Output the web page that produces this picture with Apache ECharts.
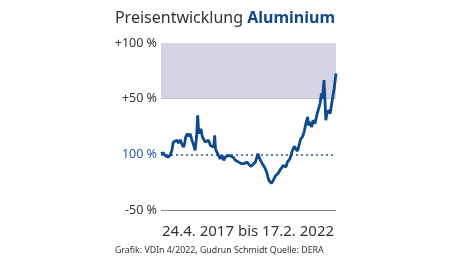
<!DOCTYPE html>
<html><head><meta charset="utf-8">
<script src="https://cdn.jsdelivr.net/npm/echarts@6/dist/echarts.min.js"></script>
<style>html,body{margin:0;padding:0;background:#fff}#c{width:450px;height:257px}</style>
</head><body><div id="c"></div>
<script>
// x: decimal year, y: change in %
const years = [2017.31,2017.37,2017.42,2017.50,2017.56,2017.61,2017.65,2017.70,2017.75,2017.79,2017.84,2017.88,2017.93,2017.96,2017.99,2018.04,2018.09,2018.11,2018.16,2018.21,2018.25,2018.29,2018.32,2018.34,2018.37,2018.41,2018.45,2018.48,2018.53,2018.58,2018.62,2018.67,2018.71,2018.76,2018.79,2018.81,2018.85,2018.90,2018.94,2018.99,2019.04,2019.08,2019.13,2019.17,2019.25,2019.31,2019.36,2019.41,2019.45,2019.53,2019.59,2019.68,2019.78,2019.85,2019.91,2019.98,2020.03,2020.10,2020.16,2020.22,2020.28,2020.35,2020.40,2020.47,2020.53,2020.61,2020.68,2020.75,2020.79,2020.86,2020.93,2020.98,2021.02,2021.07,2021.11,2021.16,2021.21,2021.25,2021.30,2021.35,2021.37,2021.41,2021.46,2021.50,2021.55,2021.60,2021.64,2021.69,2021.73,2021.76,2021.80,2021.83,2021.85,2021.88,2021.93,2021.97,2022.04,2022.08,2022.13];
const change = [0.6,1.5,-1,-2.4,-1,3.6,11,10,12.6,10,13,9.6,6.6,9.6,15.6,18.6,16,18.6,13,8,3.6,15.6,35,24.6,18.6,23,15.6,17,11,9.6,12.6,8,9.6,6.6,17,5,2,0.6,-4,-1,-5.4,-2.4,-4,-1,-1.8,-3,-5.4,-4,-7,-8.4,-8.4,-7,-10.8,-9,-7,0.6,-4,-8.4,-11.4,-16,-23.4,-26,-23.4,-19,-17.4,-13,-10,-11.4,-7,-4,3.6,7.2,5,3,8,14,16,20,27.6,33.6,26,29,24.6,30.6,27.6,35,33.6,45.6,54.6,50,66.6,45.6,30.6,36.6,39.6,36.6,51.6,59,72.6];
const yTicks = [-50, 0, 50, 100];
const yTickLabels = ['-50 %', '100 %', '+50 %', '+100 %'];
const titleMain = 'Preisentwicklung ';
const titleBold = 'Aluminium';
const period = '24.4. 2017 bis 17.2. 2022';
const source = 'Grafik: VDIn 4/2022, Gudrun Schmidt Quelle: DERA';

const chart = echarts.init(document.getElementById('c'), null, {renderer: 'canvas'});
const font = '"Noto Sans", "Open Sans", sans-serif';
chart.setOption({
  animation: false,
  title: [
    {text: '{a|' + titleMain + '}{b|' + titleBold + '}', left: 'center', top: 5,
     textStyle: {fontWeight: 'normal', rich: {a: {fontSize: 16, fontWeight: 'normal', color: '#333', fontFamily: font}, b: {fontSize: 16, fontWeight: 'bold', color: '#124a86', fontFamily: font}}}},
    {text: period, left: 157, top: 219, textStyle: {fontSize: 15, fontWeight: 'normal', color: '#333', fontFamily: font}},
    {text: source, left: 110, top: 241, textStyle: {fontSize: 8.8, fontWeight: 'normal', color: '#333', fontFamily: font}}
  ],
  grid: {left: 161, right: 114, top: 43, bottom: 47},
  xAxis: {type: 'value', min: years[0], max: years[years.length - 1], show: false},
  yAxis: {
    type: 'value', min: -50, max: 100, interval: 50,
    axisLine: {show: false}, axisTick: {show: false},
    axisLabel: {
      margin: 4, fontSize: 12.5, fontFamily: font,
      formatter: v => { const i = yTicks.indexOf(v); const s = i >= 0 ? yTickLabels[i] : ''; return v === 0 ? '{z|' + s + '}' : '{g|' + s + '}'; },
      rich: {z: {color: '#1d5a9a', fontSize: 12.5, fontFamily: font}, g: {color: '#333', fontSize: 12.5, fontFamily: font}}
    },
    splitLine: {show: true, lineStyle: {color: ['#8a8a8a', 'rgba(0,0,0,0)', '#8a8a8a', '#8a8a8a'], width: 1.2}}
  },
  series: [{
    type: 'line', data: years.map((x, i) => [x, change[i]]), showSymbol: false,
    lineStyle: {color: '#0f4a8c', width: 2.8}, z: 5,
    markArea: {silent: true, itemStyle: {color: '#d3d3e3'}, data: [[{yAxis: 50}, {yAxis: 100}]]},
    markLine: {silent: true, symbol: 'none', label: {show: false}, lineStyle: {color: '#1d5a9a', type: [2, 3], width: 1.6}, data: [{yAxis: 0}]}
  }]
});
</script></body></html>
